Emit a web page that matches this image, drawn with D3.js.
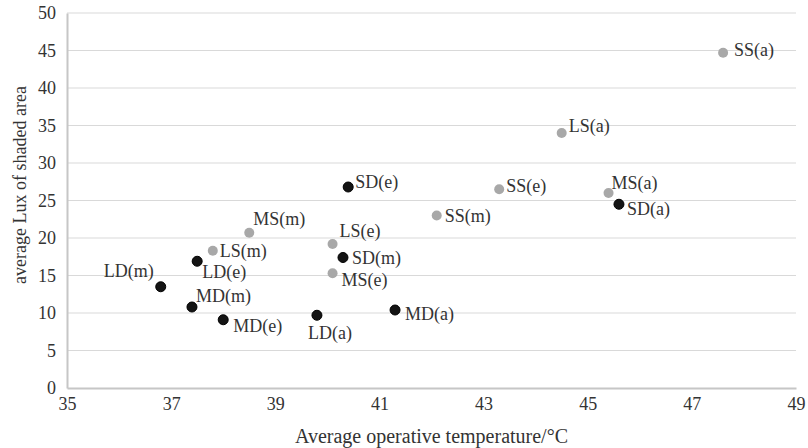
<!DOCTYPE html>
<html>
<head>
<meta charset="utf-8">
<script src="https://cdn.jsdelivr.net/npm/d3@7"></script>
<style>
  body { margin: 0; background: #fff; }
  svg text { font-family: "Liberation Serif", "Times New Roman", Times, serif; fill: #333; }
</style>
</head>
<body>
<div id="chart"></div>
<script>
// Shaded-area lux vs operative temperature, per case
const names = ["SS(a)", "LS(a)", "MS(a)", "SS(e)", "SS(m)", "LS(e)", "MS(e)", "MS(m)", "LS(m)",
               "SD(a)", "SD(e)", "SD(m)", "MD(a)", "LD(a)", "MD(m)", "MD(e)", "LD(e)", "LD(m)"];
const temps = [47.6, 44.5, 45.4, 43.3, 42.1, 40.1, 40.1, 38.5, 37.8,
               45.6, 40.4, 40.3, 41.3, 39.8, 37.4, 38.0, 37.5, 36.8];
const lux = [44.7, 34.0, 26.0, 26.5, 23.0, 19.2, 15.3, 20.7, 18.3,
             24.5, 26.8, 17.4, 10.4, 9.7, 10.8, 9.1, 16.9, 13.5];
const xTicks = [35, 37, 39, 41, 43, 45, 47, 49];
const yTicks = [0, 5, 10, 15, 20, 25, 30, 35, 40, 45, 50];

// where each label sits relative to its point (pixels)
const labelPos = {
    "SS(a)": [11, -3], "LS(a)": [7, -7], "MS(a)": [3, -10], "SD(a)": [8, 5],
    "SS(e)": [7, -3], "SD(e)": [7, -5], "SS(m)": [8, 0], "LS(e)": [7, -13],
    "SD(m)": [9, 0], "MS(e)": [9, 7], "MD(a)": [10, 4], "LD(a)": [13, 18, "middle"],
    "MS(m)": [4, -14], "LS(m)": [7, 0], "LD(e)": [5, 11], "LD(m)": [-7, -16, "end"],
    "MD(m)": [4, -11], "MD(e)": [10, 6]
};

const width = 808, height = 448;
const margin = { top: 13, right: 12, bottom: 60, left: 67 };

const svg = d3.select("#chart").append("svg")
    .attr("width", width)
    .attr("height", height);

const x = d3.scaleLinear().domain([35, 49]).range([margin.left, width - margin.right]);
const y = d3.scaleLinear().domain([0, 50]).range([height - margin.bottom, margin.top]);

// gridlines
svg.append("g")
    .selectAll("line")
    .data(yTicks.filter(d => d > 0))
    .join("line")
    .attr("x1", x(35))
    .attr("x2", x(49))
    .attr("y1", d => y(d))
    .attr("y2", d => y(d))
    .attr("stroke", "#d9d9d9")
    .attr("stroke-width", 1);

const xAxis = svg.append("g")
    .attr("transform", `translate(0,${y(0)})`)
    .call(d3.axisBottom(x).tickValues(xTicks).tickSize(0).tickPadding(9));
const yAxis = svg.append("g")
    .attr("transform", `translate(${x(35)},0)`)
    .call(d3.axisLeft(y).tickValues(yTicks).tickSize(0).tickPadding(11));

[xAxis, yAxis].forEach(g => {
    g.attr("font-family", null);
    g.select(".domain").attr("stroke", "#c6c6c6").attr("stroke-width", 2);
    g.selectAll("text")
        .style("font-size", "18px")
        .attr("fill", "#333");
});

const points = names.map((n, i) => ({ name: n, t: temps[i], v: lux[i], dark: n[1] === "D" }));

svg.append("g")
    .selectAll("circle")
    .data(points)
    .join("circle")
    .attr("cx", d => x(d.t))
    .attr("cy", d => y(d.v))
    .attr("r", 5)
    .attr("fill", d => d.dark ? "#141414" : "#a8a8a8")
    .attr("stroke", d => d.dark ? "#000" : "none")
    .attr("stroke-width", 1);

svg.append("g")
    .selectAll("text")
    .data(points)
    .join("text")
    .attr("x", d => x(d.t) + labelPos[d.name][0])
    .attr("y", d => y(d.v) + labelPos[d.name][1])
    .attr("text-anchor", d => labelPos[d.name][2] || "start")
    .attr("dominant-baseline", "central")
    .style("font-size", "18px")
    .text(d => d.name);

// axis titles
svg.append("text")
    .attr("x", (x(35) + x(49)) / 2)
    .attr("y", 443)
    .attr("text-anchor", "middle")
    .style("font-size", "20px")
    .text("Average operative temperature/°C");

svg.append("text")
    .attr("transform", "translate(26,185) rotate(-90)")
    .attr("text-anchor", "middle")
    .style("font-size", "18px")
    .text("average Lux of shaded area");
</script>
</body>
</html>
